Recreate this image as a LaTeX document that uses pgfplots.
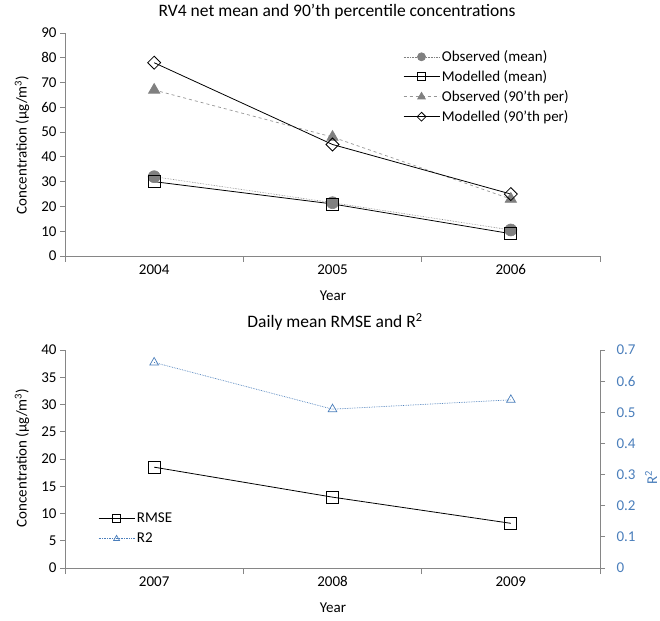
\documentclass[border=0pt]{standalone}
\usepackage{pgfplots}
\pgfplotsset{compat=1.18}
\usepackage{fontspec}
\setmainfont{Carlito}
\definecolor{axgray}{RGB}{134,134,134}
\definecolor{obsgray}{RGB}{128,128,128}
\definecolor{dashgray}{RGB}{150,150,150}
\definecolor{rblue}{RGB}{74,126,187}

\pgfplotsset{
  excel/.style={
    scale only axis, width=535pt,
    xmin=0.5, xmax=3.5,
    axis x line*=bottom, axis y line*=left,
    axis line style={axgray, line width=0.8pt, -},
    xtick={1,2,3}, major x tick style={draw=none},
    minor xtick={0.5,1.5,2.5,3.5},
    minor tick length=6pt, major tick length=5pt, tick align=outside,
    minor x tick style={draw=axgray, line width=0.8pt},
    ytick style={axgray, line width=0.8pt},
    tick label style={font=\fontsize{15}{18}\selectfont},
    /pgf/number format/assume math mode=true,
    legend style={draw=none, fill=none, font=\fontsize{15}{18}\selectfont, row sep=3.5pt},
    legend cell align=left,
    legend image code/.code={\draw[mark repeat=2,mark phase=2,##1,every mark/.append style={scale=0.68}] plot coordinates {(0pt,0pt) (18pt,0pt) (36pt,0pt)};},
  }
}

\begin{document}
\begin{tikzpicture}
\useasboundingbox (0,0) rectangle (660pt,620pt);

% top chart
\begin{axis}[excel, at={(65pt,364pt)}, anchor=south west, height=223pt,
  ymin=0, ymax=90, ytick={0,10,...,90},
  xticklabels={2004,2005,2006},
  legend style={at={(0.626,0.94)}, anchor=north west}]
\addplot[obsgray, densely dotted, line width=0.6pt, mark=*, mark size=6pt,
  mark options={solid, fill=obsgray, draw=obsgray}]
  coordinates {(1,32) (2,21.5) (3,10.5)};
\addlegendentry{Observed (mean)}
\addplot[black, line width=0.8pt, mark=square, mark size=6pt,
  mark options={solid, fill=none}]
  coordinates {(1,30) (2,21) (3,9)};
\addlegendentry{Modelled (mean)}
\addplot[dashgray, dashed, line width=0.7pt, mark=triangle*, mark size=6.5pt,
  mark options={solid, fill=obsgray, draw=obsgray}]
  coordinates {(1,67) (2,48) (3,23)};
\addlegendentry{Observed (90'th per)}
\addplot[black, line width=0.8pt, mark=square, mark size=4.6pt,
  mark options={solid, fill=white, rotate=45}]
  coordinates {(1,78) (2,45) (3,25)};
\addlegendentry{Modelled (90'th per)}
\end{axis}

% bottom chart, left axis
\begin{axis}[excel, at={(65pt,52pt)}, anchor=south west, height=218pt,
  ymin=0, ymax=40, ytick={0,5,...,40},
  xticklabels={2007,2008,2009},
  legend style={at={(0.056,0.272)}, anchor=north west, row sep=5pt}]
\addplot[black, line width=0.8pt, mark=square, mark size=6pt,
  mark options={solid, fill=white}]
  coordinates {(1,18.5) (2,13) (3,8.2)};
\addlegendentry{RMSE}
\addlegendimage{rblue, densely dotted, line width=0.7pt, mark=triangle, mark size=5pt, mark options={solid, fill=white}}
\addlegendentry{R2}
\end{axis}

% bottom chart, right axis
\begin{axis}[scale only axis, width=535pt, height=218pt,
  at={(65pt,52pt)}, anchor=south west,
  xmin=0.5, xmax=3.5, axis x line=none, axis y line*=right,
  axis line style={axgray, line width=0.8pt, -},
  ymin=0, ymax=0.7, ytick={0,0.1,0.2,0.3,0.4,0.5,0.6,0.7},
  major tick length=5pt, tick align=outside,
  ytick style={axgray, line width=0.8pt},
  yticklabel style={font=\fontsize{15}{18}\selectfont, text=rblue, xshift=8pt},
  /pgf/number format/assume math mode=true]
\addplot[rblue, densely dotted, line width=0.7pt, mark=triangle, mark size=5pt,
  mark options={solid, fill=white}]
  coordinates {(1,0.66) (2,0.51) (3,0.54)};
\end{axis}

% titles and labels
\node[font=\fontsize{17.5}{20}\selectfont] at (337pt,608pt) {RV4 net mean and 90'th percentile concentrations};
\node[font=\fontsize{17.5}{20}\selectfont] at (335pt,298pt) {Daily mean RMSE and R\textsuperscript{2}};
\node[font=\fontsize{15}{18}\selectfont] at (333pt,324pt) {Year};
\node[font=\fontsize{15}{18}\selectfont] at (333pt,12pt) {Year};
\node[font=\fontsize{15}{18}\selectfont, rotate=90] at (22pt,475pt) {Concentration (µg/m\textsuperscript{3})};
\node[font=\fontsize{15}{18}\selectfont, rotate=90] at (22pt,162pt) {Concentration (µg/m\textsuperscript{3})};
\node[font=\fontsize{15}{18}\selectfont, rotate=90, text=rblue] at (651pt,142pt) {R\textsuperscript{2}};
\end{tikzpicture}
\end{document}
